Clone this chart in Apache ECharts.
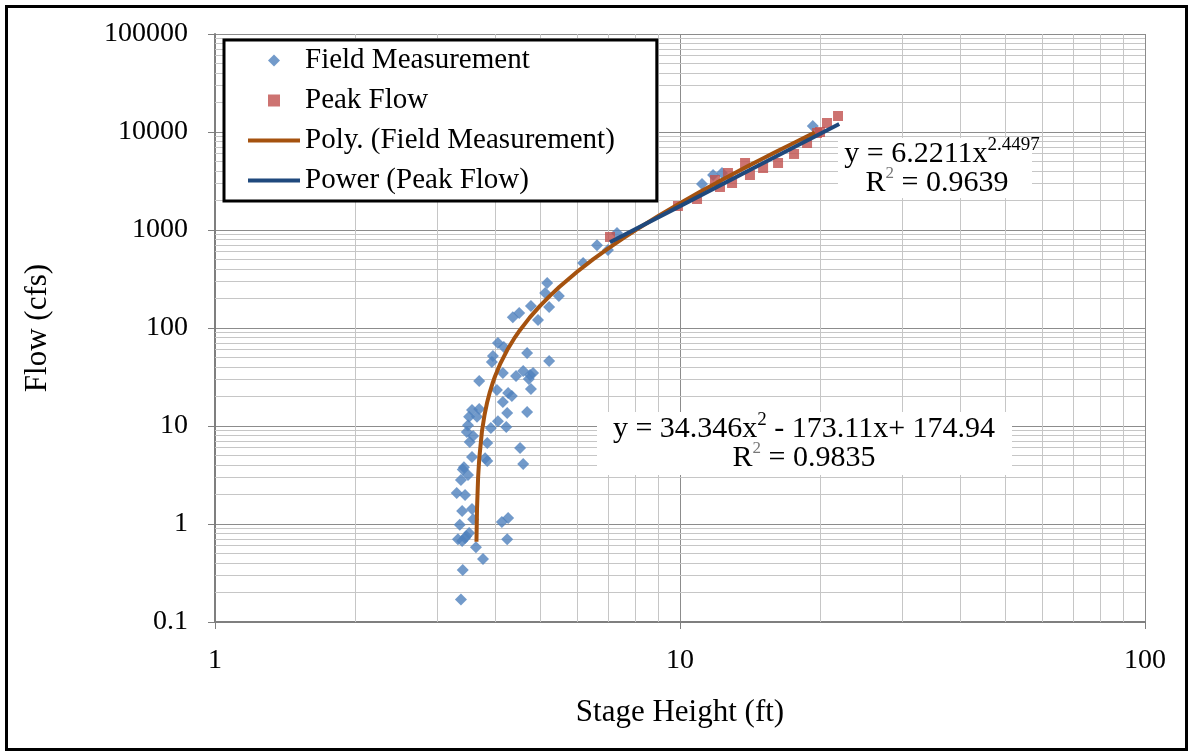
<!DOCTYPE html>
<html>
<head>
<meta charset="utf-8">
<script src="https://cdn.jsdelivr.net/npm/echarts@6/dist/echarts.min.js"></script>
<style>
  html, body { margin: 0; padding: 0; background: #fff; }
  #chart { position: absolute; left: 0; top: 0; width: 1191px; height: 755px; }
  #frame { position: absolute; left: 5px; top: 5px; width: 1177px; height: 740px; border: 3px solid #000; pointer-events: none; }
</style>
</head>
<body>
<div id="chart"></div>
<div id="frame"></div>
<script>
// [stage (ft), flow (cfs)]
const fieldMeasurement = [
  [3.38, 0.17], [3.41, 0.34], [3.77, 0.44], [3.64, 0.58], [3.33, 0.70], [3.40, 0.67],
  [3.45, 0.72], [3.52, 0.81], [3.47, 0.75], [4.25, 0.70], [3.36, 0.98], [3.59, 1.12],
  [4.14, 1.05], [4.27, 1.15], [3.40, 1.36], [3.57, 1.42], [3.31, 2.07], [3.45, 1.98],
  [3.38, 2.81], [3.50, 3.16], [3.41, 3.6], [3.43, 3.8], [3.85, 4.4], [4.60, 4.1],
  [3.57, 4.83], [3.81, 4.7], [4.53, 5.96], [3.53, 6.85], [3.85, 6.71], [3.48, 8.69],
  [3.59, 7.9], [3.50, 10.2], [3.92, 9.54], [4.23, 9.77], [4.06, 11.2], [3.52, 12.4],
  [3.66, 12.4], [3.57, 14.6], [3.70, 14.9], [4.25, 13.6], [4.69, 13.9], [4.16, 17.6],
  [4.35, 20.2], [4.27, 21.7], [4.04, 23.3], [4.78, 23.9], [3.70, 28.8], [4.73, 30.2],
  [4.44, 32.4], [4.76, 33.1], [4.16, 34.7], [4.60, 36.4], [4.83, 34.7], [3.94, 45],
  [3.96, 51.9], [5.23, 46], [4.69, 55.6], [4.18, 64], [4.06, 70.3], [4.37, 129],
  [4.51, 142], [4.95, 121], [4.78, 168], [5.23, 164], [5.13, 227], [5.49, 212],
  [5.18, 288], [6.19, 460], [6.63, 700], [7.00, 625], [7.32, 930], [11.15, 2950],
  [11.78, 3640], [12.31, 3820], [19.3, 11500]
];

const peakFlow = [
  [7.07, 849], [9.90, 1758], [10.88, 2071], [11.89, 3236], [12.19, 2748], [12.68, 3817],
  [12.94, 3017], [13.80, 4828], [14.14, 3640], [15.09, 4293], [16.25, 4828], [17.59, 5968],
  [18.76, 7727], [19.71, 9772], [20.0, 10000], [20.71, 12360], [21.87, 14560]
];

// trend lines as drawn in the reference
const polyTrend = [
  [3.65, 0.66], [3.66, 1.44], [3.68, 3.0], [3.7, 4.6], [3.75, 8.8], [3.8, 13.1],
  [3.85, 17.6], [3.9, 22.2], [3.95, 27.0], [4, 32], [4.1, 42.5], [4.25, 59.6],
  [4.4, 78.2], [4.5, 91.5], [4.75, 127.6], [5, 168], [5.25, 212.8], [5.5, 262],
  [6, 373], [6.5, 501], [7, 646], [7.5, 809], [8, 988], [9, 1399], [10, 1878],
  [11, 2427], [12, 3043], [13, 3729], [14, 4483], [15, 5306], [16, 6198],
  [17, 7158], [18, 8187], [19, 9285], [19.5, 9860]
];

const powerTrend = [[7.07, 749], [10, 1752], [15, 4734], [22, 12089]];

const xTickLabels = ['1', '10', '100'];
const yTickLabels = ['0.1', '1', '10', '100', '1000', '10000', '100000'];

const serif = '"Liberation Serif", "Times New Roman", serif';

// minor log grid lines (2..9 in every decade)
const minorX = [];
for (const d of [1, 10]) for (let k = 2; k <= 9; k++) minorX.push(k * d);
const minorY = [];
for (const d of [0.1, 1, 10, 100, 1000, 10000]) for (let k = 2; k <= 9; k++) minorY.push(+(k * d).toPrecision(3));

const chart = echarts.init(document.getElementById('chart'));

function fmt(v) {
  return String(Number(v.toPrecision(6)));
}

const richEq = {
  a: { fontFamily: serif, fontSize: 30, lineHeight: 36, fill: '#000' },
  s: { fontFamily: serif, fontSize: 19, lineHeight: 19, fill: '#000', verticalAlign: 'top' },
  r: { fontFamily: serif, fontSize: 17, lineHeight: 19, fill: '#777', verticalAlign: 'top' }
};

chart.setOption({
  animation: false,
  backgroundColor: '#fff',
  grid: { left: 215, right: 46, top: 34, bottom: 133 },
  xAxis: {
    type: 'log',
    logBase: 10,
    min: 1,
    max: 100,
    name: 'Stage Height (ft)',
    nameLocation: 'middle',
    nameGap: 75,
    nameTextStyle: { fontFamily: serif, fontSize: 31, color: '#000' },
    axisLine: { lineStyle: { color: '#7f7f7f', width: 2 } },
    axisTick: { show: true, length: 7, lineStyle: { color: '#7f7f7f' } },
    axisLabel: {
      margin: 25, fontFamily: serif, fontSize: 28, color: '#000',
      formatter: v => xTickLabels.includes(fmt(v)) ? fmt(v) : ''
    },
    splitLine: { show: true, lineStyle: { color: '#8c8c8c', width: 1 } }
  },
  yAxis: {
    type: 'log',
    logBase: 10,
    min: 0.1,
    max: 100000,
    name: 'Flow (cfs)',
    nameLocation: 'middle',
    nameGap: 162,
    nameTextStyle: { fontFamily: serif, fontSize: 31, color: '#000' },
    axisLine: { show: true, lineStyle: { color: '#7f7f7f', width: 2 } },
    axisTick: { show: true, length: 7, lineStyle: { color: '#7f7f7f' } },
    axisLabel: {
      margin: 27, fontFamily: serif, fontSize: 28, color: '#000',
      formatter: v => yTickLabels.includes(fmt(v)) ? fmt(v) : ''
    },
    splitLine: { show: true, lineStyle: { color: '#8c8c8c', width: 1 } }
  },
  legend: {
    orient: 'vertical',
    left: 224,
    top: 40,
    z: 20,
    padding: [6, 42, 6, 24],
    itemWidth: 52,
    itemHeight: 12,
    itemGap: 11,
    symbolKeepAspect: true,
    borderColor: '#000',
    borderWidth: 3,
    backgroundColor: '#fff',
    textStyle: { fontFamily: serif, fontSize: 29, color: '#000' },
    data: [
      { name: 'Field Measurement', icon: 'path://M5,0 L10,5 L5,10 L0,5 Z' },
      { name: 'Peak Flow', icon: 'path://M0,0 L10,0 L10,10 L0,10 Z' },
      { name: 'Poly. (Field Measurement)', icon: 'path://M0,0 L52,0 L52,4 L0,4 Z' },
      { name: 'Power (Peak Flow)', icon: 'path://M0,0 L52,0 L52,4 L0,4 Z' }
    ]
  },
  series: [
    {
      name: 'minor grid',
      type: 'line',
      data: [],
      z: 1,
      silent: true,
      markLine: {
        z: 1,
        silent: true,
        symbol: ['none', 'none'],
        label: { show: false },
        lineStyle: { color: '#c6c6c6', width: 1, type: 'solid' },
        data: minorX.map(v => ({ xAxis: v })).concat(minorY.map(v => ({ yAxis: v })))
      }
    },
    {
      name: 'Field Measurement',
      type: 'scatter',
      symbol: 'diamond',
      symbolSize: 12,
      z: 3,
      itemStyle: { color: '#4F81BD' },
      data: fieldMeasurement
    },
    {
      name: 'Peak Flow',
      type: 'scatter',
      symbol: 'rect',
      symbolSize: 10,
      z: 4,
      itemStyle: { color: '#C0504D' },
      data: peakFlow
    },
    {
      name: 'Poly. (Field Measurement)',
      type: 'line',
      symbol: 'none',
      showSymbol: false,
      z: 5,
      itemStyle: { color: '#A5520F' },
      lineStyle: { color: '#A5520F', width: 4 },
      data: polyTrend
    },
    {
      name: 'Power (Peak Flow)',
      type: 'line',
      symbol: 'none',
      showSymbol: false,
      z: 6,
      itemStyle: { color: '#1F497D' },
      lineStyle: { color: '#1F497D', width: 4 },
      data: powerTrend
    }
  ],
  graphic: [
    { type: 'rect', z: 30, shape: { x: 838, y: 138, width: 194, height: 60 }, style: { fill: '#fff' } },
    {
      type: 'text', z: 31, x: 942, y: 154,
      style: { text: '{a|y = 6.2211x}{s|2.4497}', align: 'center', verticalAlign: 'middle', rich: richEq }
    },
    {
      type: 'text', z: 31, x: 937, y: 183,
      style: { text: '{a|R}{r|2}{a| = 0.9639}', align: 'center', verticalAlign: 'middle', rich: richEq }
    },
    { type: 'rect', z: 30, shape: { x: 597, y: 412, width: 415, height: 63 }, style: { fill: '#fff' } },
    {
      type: 'text', z: 31, x: 804, y: 429,
      style: { text: '{a|y = 34.346x}{s|2}{a| - 173.11x+ 174.94}', align: 'center', verticalAlign: 'middle', rich: richEq }
    },
    {
      type: 'text', z: 31, x: 804, y: 458,
      style: { text: '{a|R}{r|2}{a| = 0.9835}', align: 'center', verticalAlign: 'middle', rich: richEq }
    }
  ]
});
</script>
</body>
</html>
